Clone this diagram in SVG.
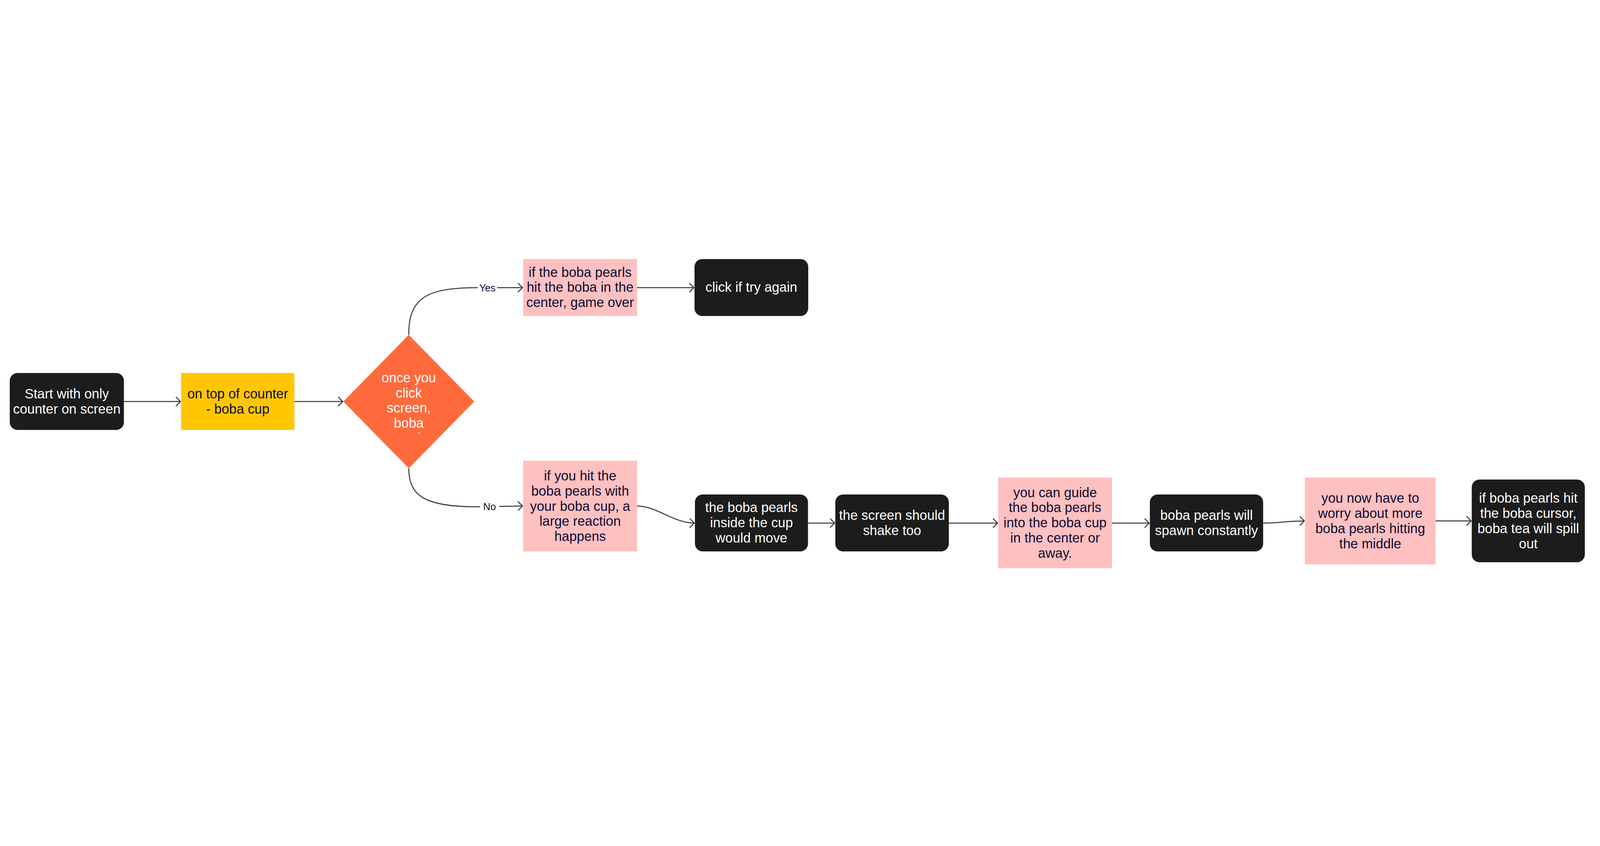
<svg xmlns="http://www.w3.org/2000/svg" width="7386" height="2166" viewBox="0 0 7386 2166" style="max-width:100vw;max-height:100vh">
<defs>
<marker id="arr" viewBox="0 0 26 46" refX="23" refY="23" markerWidth="26" markerHeight="46" markerUnits="userSpaceOnUse" orient="auto">
<path d="M2,2 L23,23 L2,44" fill="none" stroke="#333333" stroke-width="4.5"/>
</marker>
<style>
.dark{fill:#1c1c1c}
.pink{fill:#ffc0c0}
.yel{fill:#ffc700}
.dia{fill:#ff6a3d}
text{font-family:"Liberation Sans",Arial,sans-serif;font-size:62px;text-anchor:middle}
.w{fill:#ffffff}
.n{fill:#0e0b33}
.lbl{font-size:46px;fill:#0e0b33}
.c{fill:none;stroke:#333333;stroke-width:4.5}
</style>
</defs>
<rect width="7386" height="2166" fill="#ffffff"/>
<g id="connectors">
<path class="c" d="M572,984 L833,984" marker-end="url(#arr)"/>
<path class="c" d="M1359,984 L1582,984" marker-end="url(#arr)"/>
<path class="c" d="M1887,676 C1887,520 1950,458 2200,458 L2412,458" marker-end="url(#arr)"/>
<path class="c" d="M1887,1292 C1887,1420 1960,1470 2210,1470 L2412,1466" marker-end="url(#arr)"/>
<path class="c" d="M2941,458 L3203,458" marker-end="url(#arr)"/>
<path class="c" d="M2941,1466 C3030,1466 3110,1545 3205,1545" marker-end="url(#arr)"/>
<path class="c" d="M3730,1545 L3853,1545" marker-end="url(#arr)"/>
<path class="c" d="M4380,1545 L4605,1545" marker-end="url(#arr)"/>
<path class="c" d="M5133,1545 L5305,1545" marker-end="url(#arr)"/>
<path class="c" d="M5831,1545 C5920,1545 5940,1535 6021,1535" marker-end="url(#arr)"/>
<path class="c" d="M6627,1535 L6791,1535" marker-end="url(#arr)"/>
<rect x="2205" y="430" width="90" height="56" fill="#ffffff"/>
<text class="lbl" x="2250" y="476">Yes</text>
<rect x="2216" y="1442" width="88" height="56" fill="#ffffff"/>
<text class="lbl" x="2260" y="1486">No</text>
</g>
<g id="start">
<rect class="dark" x="45" y="852" width="527" height="263" rx="36"/>
<text class="w" x="308.5" y="970">Start with only</text>
<text class="w" x="308.5" y="1040">counter on screen</text>
</g>
<g id="counter">
<rect class="yel" x="836" y="852" width="523" height="263"/>
<text class="n" x="1097.5" y="970">on top of counter</text>
<text class="n" x="1097.5" y="1040">- boba cup</text>
</g>
<g id="decision">
<polygon class="dia" points="1585,984 1887,676 2189,984 1887,1292"/>
<text class="w" x="1887" y="895">once you</text>
<text class="w" x="1887" y="965">click</text>
<text class="w" x="1887" y="1035">screen,</text>
<text class="w" x="1887" y="1105">boba</text>
<rect x="1931" y="1127" width="7" height="5" fill="#ffffff"/>
</g>
<g id="gameover">
<rect class="pink" x="2415" y="326" width="526" height="263"/>
<text class="n" x="2678" y="408">if the boba pearls</text>
<text class="n" x="2678" y="478">hit the boba in the</text>
<text class="n" x="2678" y="548">center, game over</text>
</g>
<g id="tryagain">
<rect class="dark" x="3206" y="326" width="525" height="263" rx="36"/>
<text class="w" x="3468.5" y="478">click if try again</text>
</g>
<g id="reaction">
<rect class="pink" x="2415" y="1257" width="526" height="419"/>
<text class="n" x="2678" y="1348">if you hit the</text>
<text class="n" x="2678" y="1418">boba pearls with</text>
<text class="n" x="2678" y="1488">your boba cup, a</text>
<text class="n" x="2678" y="1558">large reaction</text>
<text class="n" x="2678" y="1628">happens</text>
</g>
<g id="move">
<rect class="dark" x="3208" y="1413" width="522" height="263" rx="36"/>
<text class="w" x="3469" y="1495">the boba pearls</text>
<text class="w" x="3469" y="1565">inside the cup</text>
<text class="w" x="3469" y="1635">would move</text>
</g>
<g id="shake">
<rect class="dark" x="3856" y="1413" width="524" height="263" rx="36"/>
<text class="w" x="4118" y="1530">the screen should</text>
<text class="w" x="4118" y="1600">shake too</text>
</g>
<g id="guide">
<rect class="pink" x="4608" y="1335" width="525" height="419"/>
<text class="n" x="4870.5" y="1425">you can guide</text>
<text class="n" x="4870.5" y="1495">the boba pearls</text>
<text class="n" x="4870.5" y="1565">into the boba cup</text>
<text class="n" x="4870.5" y="1635">in the center or</text>
<text class="n" x="4870.5" y="1705">away.</text>
</g>
<g id="spawn">
<rect class="dark" x="5308" y="1413" width="523" height="263" rx="36"/>
<text class="w" x="5569.5" y="1530">boba pearls will</text>
<text class="w" x="5569.5" y="1600">spawn constantly</text>
</g>
<g id="worry">
<rect class="pink" x="6024" y="1335" width="603" height="401"/>
<text class="n" x="6325.5" y="1451">you now have to</text>
<text class="n" x="6325.5" y="1521">worry about more</text>
<text class="n" x="6325.5" y="1591">boba pearls hitting</text>
<text class="n" x="6325.5" y="1661">the middle</text>
</g>
<g id="spill">
<rect class="dark" x="6794" y="1344" width="522" height="382" rx="36"/>
<text class="w" x="7055" y="1451">if boba pearls hit</text>
<text class="w" x="7055" y="1521">the boba cursor,</text>
<text class="w" x="7055" y="1591">boba tea will spill</text>
<text class="w" x="7055" y="1661">out</text>
</g>
</svg>
